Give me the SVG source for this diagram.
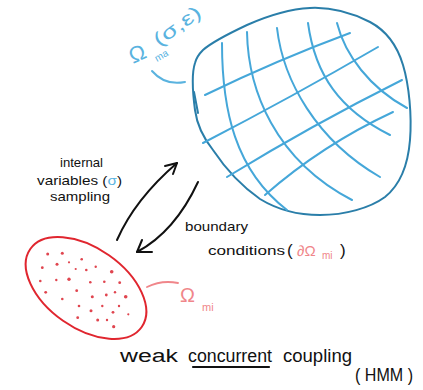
<svg xmlns="http://www.w3.org/2000/svg" width="423" height="390" viewBox="0 0 423 390">
<style>
.hand{font-family:"Liberation Sans","DejaVu Sans",sans-serif;fill:#111}
.blue{fill:#5ab3df}
.pink{fill:#f0868a}
.outline{fill:none;stroke:#2a7ea9;stroke-width:2;stroke-linecap:round}
.grid{fill:none;stroke:#45a7d9;stroke-width:2;stroke-linecap:round}
.arrow{fill:none;stroke:#111;stroke-width:2;stroke-linecap:round;stroke-linejoin:round}
.dot{fill:#e0454f}
</style>
<rect width="423" height="390" fill="#fff"/>
<g id="macro-domain">
<path class="outline" d="M195,63 C191,75 193,95 195,110 C197,125 205,140 213,150 C225,168 240,185 260,199 C278,210 300,215 320,215 C345,215 370,208 385,197 C400,185 408,165 410,140 C412,115 409,85 403,65 C397,45 385,30 370,22 C350,12 330,7 310,8 C290,9 265,17 247,25 C230,33 212,42 203,50 C198,55 196,59 195,63 Z"/>
<path class="outline" d="M194,92 L198,113"/>
<path class="grid" d="M205,95 Q277,60 350,33"/>
<path class="grid" d="M203,143 Q292,97 378,47"/>
<path class="grid" d="M227,177 Q312,125 402,80"/>
<path class="grid" d="M265,195 Q322,145 393,112"/>
<path class="grid" d="M222,43 C222,110 235,170 287,210"/>
<path class="grid" d="M247,32 C248,90 275,160 352,200"/>
<path class="grid" d="M277,28 C283,80 316,140 380,177"/>
<path class="grid" d="M308,23 C315,75 340,110 390,135"/>
<path class="grid" d="M337,23 C345,55 370,88 407,108"/>
</g>
<g id="macro-label">
<text class="hand blue" font-size="22" transform="translate(133,64) rotate(-25)">Ω</text>
<text class="hand blue" font-size="10" transform="translate(157,62) rotate(-30)">ma</text>
<text class="hand blue" font-size="19" transform="translate(159,47) rotate(-36)" textLength="54" lengthAdjust="spacingAndGlyphs">(σ,ε)</text>
<path d="M152,71 Q165,86 185,82" fill="none" stroke="#5ab3df" stroke-width="2" stroke-linecap="round"/>
</g>
<g id="micro-domain">
<ellipse cx="86" cy="288" rx="68" ry="40" transform="rotate(35 86 288)" fill="none" stroke="#e0262f" stroke-width="2"/>
<g>
<circle class="dot" cx="47.7" cy="254" r="1.5"/><circle class="dot" cx="62.3" cy="253.3" r="1.5"/><circle class="dot" cx="42.3" cy="267.7" r="1.4"/><circle class="dot" cx="57" cy="264.3" r="1.5"/><circle class="dot" cx="69" cy="262.3" r="1.1"/><circle class="dot" cx="81.7" cy="259.3" r="1.3"/><circle class="dot" cx="75.7" cy="269" r="1.1"/><circle class="dot" cx="86.3" cy="270" r="1.3"/><circle class="dot" cx="95.7" cy="266.7" r="1.2"/><circle class="dot" cx="111.7" cy="271.7" r="1.8"/><circle class="dot" cx="40.3" cy="281" r="1.3"/><circle class="dot" cx="56.3" cy="280" r="1.2"/><circle class="dot" cx="69" cy="279.3" r="1.7"/><circle class="dot" cx="90.3" cy="282.3" r="1.3"/><circle class="dot" cx="104.3" cy="281.7" r="1.3"/><circle class="dot" cx="119.7" cy="282.7" r="1.4"/><circle class="dot" cx="45.7" cy="292.3" r="1.4"/><circle class="dot" cx="76.7" cy="290.7" r="1.4"/><circle class="dot" cx="62.3" cy="299" r="1.3"/><circle class="dot" cx="92.3" cy="296.7" r="1.5"/><circle class="dot" cx="106.3" cy="295" r="1.4"/><circle class="dot" cx="115" cy="292.3" r="1.2"/><circle class="dot" cx="125.7" cy="296.7" r="1.8"/><circle class="dot" cx="79" cy="306" r="1.3"/><circle class="dot" cx="91" cy="310.7" r="1.5"/><circle class="dot" cx="102.3" cy="306" r="1.2"/><circle class="dot" cx="113" cy="312.3" r="1.4"/><circle class="dot" cx="119" cy="306" r="1.2"/><circle class="dot" cx="77.7" cy="317.7" r="1.4"/><circle class="dot" cx="97.7" cy="320" r="1.5"/><circle class="dot" cx="107" cy="320" r="1.2"/><circle class="dot" cx="128.3" cy="314.3" r="1.1"/><circle class="dot" cx="113.7" cy="326.7" r="1.6"/>
</g>
</g>
<g id="micro-label">
<text class="hand pink" font-size="20" x="180" y="302">Ω</text>
<text class="hand pink" font-size="11" x="202" y="311">mi</text>
</g>
<g id="connectors">
<path class="arrow" d="M117,240 C128,215 148,188 177,163"/>
<path class="arrow" d="M165,166 L177,163 L173,174"/>
<path class="arrow" d="M198,182 C185,210 165,237 137,252"/>
<path class="arrow" d="M152,252 L137,252 L142,240"/>
<path d="M147,287 C157,282 168,281 178,283" fill="none" stroke="#f0868a" stroke-width="1.8" stroke-linecap="round"/>
</g>
<g id="left-label">
<text class="hand" font-size="13" x="60" y="167" textLength="43" lengthAdjust="spacingAndGlyphs">internal</text>
<text class="hand" font-size="13" x="37" y="185" textLength="85" lengthAdjust="spacingAndGlyphs">variables (<tspan class="blue">σ</tspan>)</text>
<text class="hand" font-size="13" x="50" y="201" textLength="60" lengthAdjust="spacingAndGlyphs">sampling</text>
</g>
<g id="right-label">
<text class="hand" font-size="13" x="185" y="231" textLength="63" lengthAdjust="spacingAndGlyphs">boundary</text>
<text class="hand" font-size="13" x="208" y="255" textLength="77" lengthAdjust="spacingAndGlyphs">conditions</text>
<text class="hand" font-size="17" x="287" y="256">(</text>
<text class="hand pink" font-size="15" x="297" y="256">∂Ω</text>
<text class="hand pink" font-size="10" x="322" y="259">mi</text>
<text class="hand" font-size="17" x="340" y="256">)</text>
</g>
<g id="title">
<text class="hand" font-size="18" x="120" y="362" textLength="58" lengthAdjust="spacingAndGlyphs">weak</text>
<text class="hand" font-size="18" x="188" y="362" textLength="84" lengthAdjust="spacingAndGlyphs">concurrent</text>
<text class="hand" font-size="18" x="283" y="362" textLength="69" lengthAdjust="spacingAndGlyphs">coupling</text>
<path d="M193,367 L269,367" stroke="#111" stroke-width="2.2" stroke-linecap="round"/>
<text class="hand" font-size="18" x="355" y="381" textLength="58" lengthAdjust="spacingAndGlyphs">( HMM )</text>
</g>
</svg>
